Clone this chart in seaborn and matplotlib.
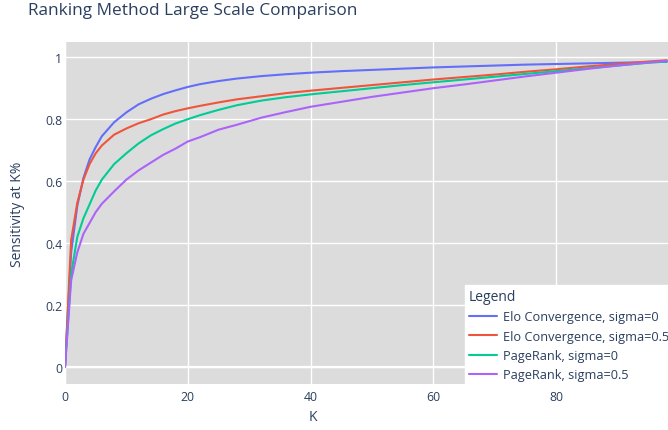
import matplotlib
matplotlib.use("Agg")
import matplotlib.pyplot as plt
import seaborn as sns
import pandas as pd

K = [0, 1, 2, 3, 4, 5, 6, 8, 10, 12, 14, 16, 18, 20, 22, 25, 28, 32, 36, 40,
     45, 50, 55, 60, 65, 70, 75, 80, 85, 90, 95, 98]

elo_s0 = [0.0, 0.37, 0.52, 0.61, 0.67, 0.71, 0.745, 0.79, 0.822, 0.848, 0.866, 0.881,
          0.893, 0.904, 0.913, 0.923, 0.931, 0.939, 0.945, 0.95, 0.955, 0.959, 0.963,
          0.967, 0.97, 0.973, 0.976, 0.978, 0.98, 0.982, 0.984, 0.985]
elo_s05 = [0.0, 0.41, 0.53, 0.605, 0.655, 0.69, 0.715, 0.75, 0.77, 0.787, 0.80, 0.815,
           0.826, 0.835, 0.843, 0.854, 0.864, 0.874, 0.884, 0.892, 0.901, 0.91, 0.919,
           0.928, 0.936, 0.944, 0.953, 0.961, 0.97, 0.978, 0.986, 0.99]
pr_s0 = [0.0, 0.30, 0.42, 0.48, 0.525, 0.57, 0.605, 0.655, 0.69, 0.722, 0.748, 0.768,
         0.786, 0.80, 0.813, 0.83, 0.845, 0.86, 0.871, 0.88, 0.89, 0.90, 0.91, 0.919,
         0.928, 0.937, 0.946, 0.955, 0.964, 0.973, 0.982, 0.986]
pr_s05 = [0.0, 0.28, 0.37, 0.43, 0.465, 0.50, 0.527, 0.567, 0.605, 0.635, 0.66, 0.685,
          0.705, 0.728, 0.742, 0.766, 0.782, 0.805, 0.823, 0.84, 0.856, 0.872, 0.886,
          0.90, 0.912, 0.925, 0.938, 0.95, 0.962, 0.973, 0.983, 0.988]

series_names = ["Elo Convergence, sigma=0", "Elo Convergence, sigma=0.5",
                "PageRank, sigma=0", "PageRank, sigma=0.5"]
series_vals = [elo_s0, elo_s05, pr_s0, pr_s05]
colors = ["#636efa", "#EF553B", "#00cc96", "#ab63fa"]

x_ticks = [0, 20, 40, 60, 80]
y_ticks = [0, 0.2, 0.4, 0.6, 0.8, 1]
y_tick_labels = ["0", "0.2", "0.4", "0.6", "0.8", "1"]

rows = []
for name, vals in zip(series_names, series_vals):
    for k, v in zip(K, vals):
        rows.append({"K": k, "value": v, "series": name})
df = pd.DataFrame(rows)

sns.set_style("white")
plt.rcParams["font.family"] = ["Open Sans", "DejaVu Sans"]
txt = "#2a3f5f"

W, H = 668, 431
fig = plt.figure(figsize=(W / 100, H / 100), dpi=100)
L, R, T, B = 65, 668, 43, 385
ax = fig.add_axes([L / W, 1 - B / H, (R - L) / W, (B - T) / H])
ax.set_facecolor("#dcdcdc")

sns.lineplot(data=df, x="K", y="value", hue="series", hue_order=series_names,
             palette=dict(zip(series_names, colors)), linewidth=1.5, ax=ax,
             zorder=3, legend=True)

ax.set_xlim(0, 98.2)
ax.set_ylim(-0.0545, 1.049)
ax.set_xticks(x_ticks)
ax.set_yticks(y_ticks)
ax.set_yticklabels(y_tick_labels)
ax.grid(True, color="white", linewidth=1.0, zorder=1)
ax.axhline(0, color="white", linewidth=1.6, zorder=2)
ax.axvline(0, color="white", linewidth=1.6, zorder=2)
ax.set_axisbelow(True)
for s in ax.spines.values():
    s.set_visible(False)
ax.tick_params(axis="both", length=0, labelsize=8.8, colors=txt)
ax.tick_params(axis="y", pad=2)
ax.tick_params(axis="x", pad=4)
ax.set_xlabel("")
ax.set_ylabel("")

fig.text(313 / W, 1 - 418 / H, "K", ha="center", va="center", fontsize=10, color=txt)
fig.text(18 / W, 1 - 214 / H, "Sensitivity at K%", ha="center", va="center",
         rotation=90, fontsize=10, color=txt)
fig.text(28 / W, 1 - 11 / H, "Ranking Method Large Scale Comparison", ha="left",
         va="center", fontsize=12.4, color=txt)

handles, labels = ax.get_legend_handles_labels()
leg = ax.legend(handles, labels, title="Legend", loc="upper left",
                bbox_to_anchor=(465 / W, 1 - 286 / H), bbox_transform=fig.transFigure,
                frameon=True, fancybox=False, facecolor="white", edgecolor="white",
                framealpha=1, fontsize=9.2, title_fontsize=10, alignment="left",
                handlelength=2.2, handletextpad=0.5, labelspacing=0.5,
                borderpad=0.3, borderaxespad=0)
leg.get_title().set_color(txt)
for t in leg.get_texts():
    t.set_color(txt)
for h in leg.get_lines():
    h.set_linewidth(1.5)
leg.set_zorder(10)

fig.savefig("out.png", dpi=100, facecolor="white")
